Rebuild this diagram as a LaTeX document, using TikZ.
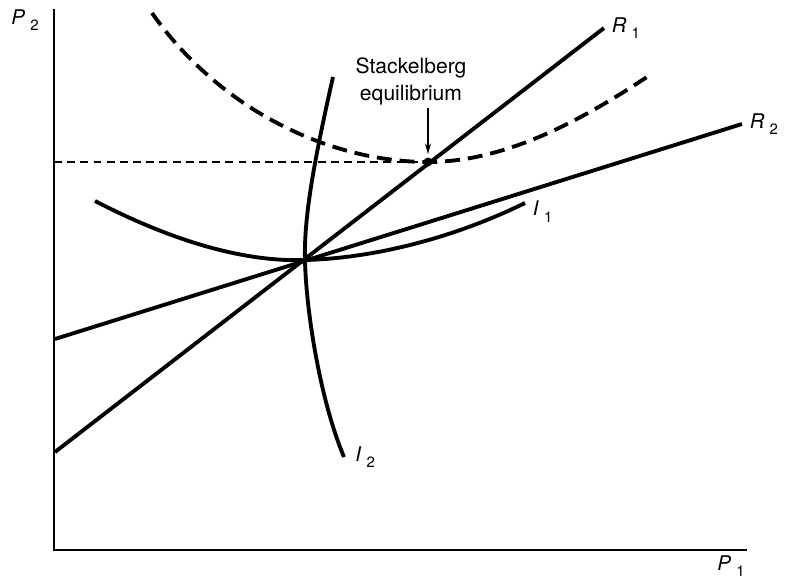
\documentclass[tikz,border=0pt]{standalone}
\usepackage{fontspec}
\setmainfont{TeX Gyre Heros}
\usetikzlibrary{arrows.meta}
\newcommand{\axlab}[2]{\textit{#1}\kern3pt\raisebox{-0.6ex}{\fontsize{8.5}{9}\selectfont #2}}

\begin{document}
\begin{tikzpicture}[font=\fontsize{11.5}{13}\selectfont,
    curve/.style={line width=2.2pt},
    profitline/.style={line width=2.2pt, dash pattern=on 8.5pt off 4.5pt},
    guideline/.style={line width=0.7pt, dash pattern=on 4.5pt off 3pt}]
  \useasboundingbox (0,0) rectangle (15.72,11.62);
  \coordinate (origin) at (1.08,0.62);
  \coordinate (nash) at (6.10,6.42);
  \coordinate (stack) at (8.56,8.38);
  \draw[line width=1.1pt] (1.08,11.44) -- (origin) -- (14.94,0.62);
  \node at (0.50,11.22) {\axlab{P}{2}};
  \node at (14.62,0.30) {\axlab{P}{1}};
  \draw[curve] (1.10,2.58) -- (12.08,11.06) node[anchor=west] {\axlab{R}{1}};
  \draw[curve] (1.10,4.84) -- (14.84,9.14) node[anchor=west] {\axlab{R}{2}};
  \draw[curve] (1.90,7.60) .. controls (3.60,6.72) and (5.00,6.38) .. (nash)
    .. controls (7.60,6.46) and (9.20,6.92) .. (10.50,7.56) node[anchor=west, yshift=-5pt] {\axlab{I}{1}};
  \draw[curve] (6.66,10.08) .. controls (6.24,8.22) and (6.08,7.22) .. (nash)
    .. controls (6.12,5.42) and (6.40,3.62) .. (6.88,2.48) node[anchor=west, xshift=2pt] {\axlab{I}{2}};
  \draw[profitline] (3.04,11.36) .. controls (4.40,9.42) and (6.60,8.38) .. (stack)
    .. controls (10.20,8.38) and (11.80,9.32) .. (13.06,10.16);
  \draw[guideline] (1.08,8.38) -- (stack);
  \fill (stack) circle (0.09);
  \node[align=center, font=\fontsize{12}{15}\selectfont] (label) at (8.22,9.99) {Stackelberg\\equilibrium};
  \draw[line width=0.7pt, -{Stealth[length=6pt,width=3.5pt]}] (8.56,9.46) -- (8.56,8.54);
\end{tikzpicture}
\end{document}
